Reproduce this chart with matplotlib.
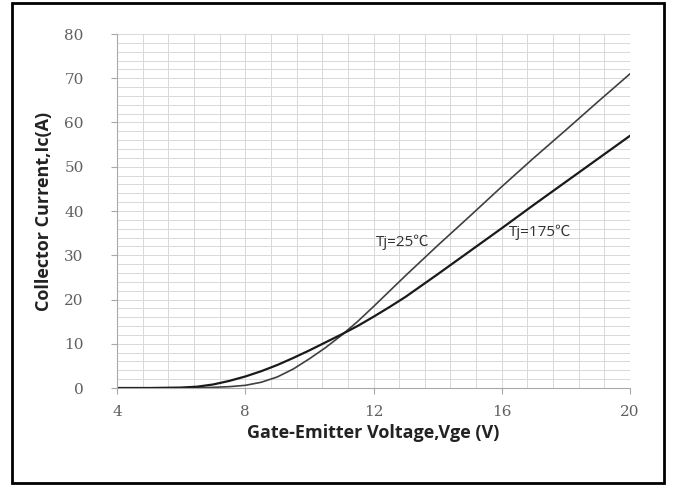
import numpy as np
import matplotlib
matplotlib.use("Agg")
import matplotlib.pyplot as plt
from matplotlib.patches import Rectangle

# transfer characteristic
vge = [4, 5, 6, 6.5, 7, 7.5, 8, 8.5, 9, 9.5, 10, 10.5, 11, 11.5, 12, 12.5, 13, 14, 15, 16, 17, 18, 19, 20]
ic_25 = [0, 0, 0, 0.05, 0.15, 0.3, 0.6, 1.3, 2.5, 4.3, 6.6, 9.1, 11.9, 15.0, 18.4, 21.9, 25.4, 32.2, 38.8, 45.5, 52.0, 58.3, 64.7, 71.0]
ic_175 = [0, 0, 0.1, 0.3, 0.8, 1.6, 2.6, 3.8, 5.2, 6.8, 8.5, 10.3, 12.1, 14.0, 16.1, 18.3, 20.6, 25.7, 30.9, 36.1, 41.4, 46.6, 51.8, 57.0]

xticks = [4, 8, 12, 16, 20]
yticks = [0, 10, 20, 30, 40, 50, 60, 70, 80]

fig = plt.figure(figsize=(6.75, 4.86), dpi=100)
ax = fig.add_axes([117/675, 1-388/486, (630-117)/675, (388-34)/486])

ax.plot(vge, ic_25, color="#404040", lw=1.2)
ax.plot(vge, ic_175, color="#1a1a1a", lw=1.6)

ax.set_xlim(4, 20)
ax.set_ylim(0, 80)
ax.set_xticks(xticks)
ax.set_yticks(yticks)
ax.set_xticks(np.arange(4, 20.01, 0.8), minor=True)
ax.set_yticks(np.arange(0, 80.01, 2), minor=True)
ax.grid(True, which="both", color="#d8d8d8", lw=0.7)
ax.set_axisbelow(True)
for s in ["top", "right"]:
    ax.spines[s].set_visible(False)
for s in ["left", "bottom"]:
    ax.spines[s].set_color("#a8a8a8")
ax.tick_params(which="minor", length=0)
ax.tick_params(which="major", length=4, color="#a8a8a8", labelcolor="#606060",
               labelsize=11)
ax.tick_params(axis="y", pad=20)
ax.tick_params(axis="x", pad=8)
for lab in ax.get_xticklabels() + ax.get_yticklabels():
    lab.set_family("DejaVu Serif")

ax.set_xlabel("Gate-Emitter Voltage,Vge (V)", fontsize=13, fontweight="bold",
              family="Open Sans", color="#222222", labelpad=4)
ax.set_ylabel("Collector Current,Ic(A)", fontsize=13, fontweight="bold",
              family="Open Sans", color="#222222", labelpad=8)

ax.text(12.9, 33, "Tj=25℃", fontsize=11, ha="center", va="center",
        family=["Open Sans", "Noto Sans CJK SC"], color="#333333")
ax.text(17.2, 35.3, "Tj=175℃", fontsize=11, ha="center", va="center",
        family=["Open Sans", "Noto Sans CJK SC"], color="#333333")

# outer frame
fig.patches.append(Rectangle((12/675, 3/486), (664-12)/675, (483-3)/486,
                             transform=fig.transFigure, fill=False,
                             edgecolor="black", lw=2))

fig.savefig("out.png", dpi=100)
